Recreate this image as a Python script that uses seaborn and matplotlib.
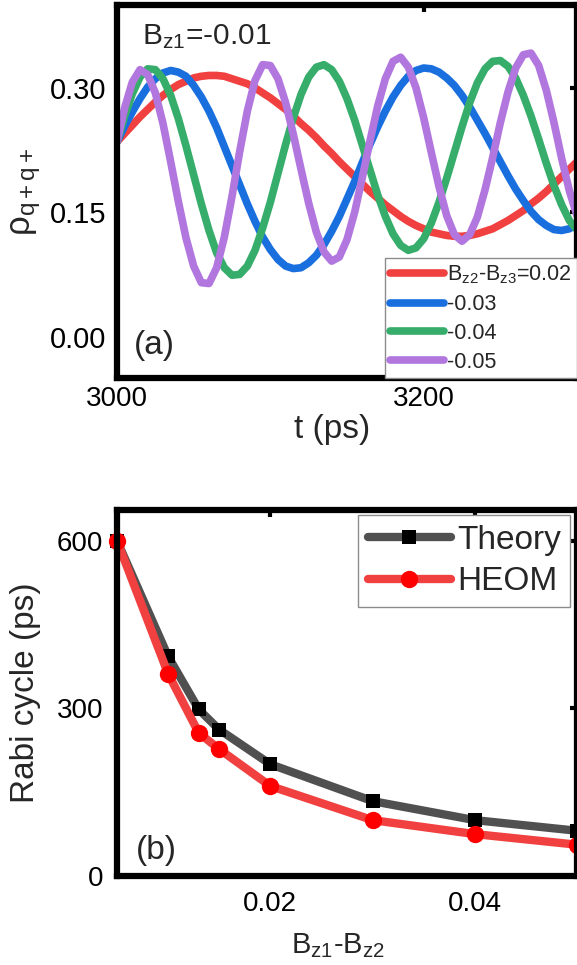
import numpy as np
import pandas as pd
import matplotlib
matplotlib.use("Agg")
import matplotlib.pyplot as plt
import seaborn as sns

# ---------------- data: panel (a) ----------------
t_ps = list(range(3000, 3301, 5))
rho_002 = [0.235, 0.245, 0.255, 0.265, 0.274, 0.283, 0.291, 0.298, 0.304, 0.308, 0.312, 0.314, 0.315,
           0.315, 0.314, 0.311, 0.308, 0.305, 0.300, 0.294, 0.288, 0.281, 0.274, 0.266, 0.257, 0.249,
           0.240, 0.230, 0.221, 0.211, 0.202, 0.193, 0.184, 0.175, 0.167, 0.159, 0.152, 0.145, 0.139,
           0.134, 0.130, 0.126, 0.124, 0.122, 0.121,
           0.121, 0.122, 0.124, 0.127, 0.130, 0.135, 0.140, 0.146, 0.152, 0.160, 0.167, 0.175, 0.184,
           0.193, 0.202, 0.211]
rho_003 = [0.235, 0.254, 0.271, 0.287, 0.301, 0.311, 0.318, 0.321,
           0.319, 0.314, 0.303, 0.289, 0.272, 0.252, 0.229, 0.206, 0.183, 0.160, 0.139, 0.120, 0.105,
           0.093, 0.085, 0.082,
           0.083, 0.089, 0.098, 0.111, 0.127, 0.145, 0.166, 0.187, 0.210, 0.232, 0.253, 0.272, 0.289,
           0.303, 0.314, 0.321, 0.324,
           0.323, 0.319, 0.312, 0.303, 0.291, 0.277, 0.261, 0.245, 0.228, 0.211, 0.194, 0.178, 0.164,
           0.151, 0.141, 0.134, 0.129, 0.128, 0.130, 0.136]
rho_004 = [0.235, 0.266, 0.293, 0.313, 0.323,
           0.322, 0.311, 0.291, 0.263, 0.230, 0.195, 0.160, 0.128, 0.101, 0.083, 0.074,
           0.075, 0.085, 0.104, 0.131, 0.162, 0.197, 0.232, 0.264, 0.292, 0.313, 0.325,
           0.328, 0.322, 0.308, 0.287, 0.261, 0.231, 0.201, 0.171, 0.145, 0.124, 0.110, 0.104,
           0.107, 0.118, 0.137, 0.162, 0.191, 0.222, 0.253, 0.282, 0.306, 0.323, 0.332,
           0.333, 0.326, 0.312, 0.291, 0.266, 0.238, 0.209, 0.182, 0.159, 0.140, 0.129]
rho_005 = [0.235, 0.276, 0.307, 0.322, 0.316, 0.294, 0.257, 0.211, 0.163, 0.119, 0.085, 0.065,
           0.064, 0.083, 0.120, 0.169, 0.223, 0.272, 0.309, 0.328, 0.327, 0.311, 0.282, 0.244,
           0.202, 0.161, 0.126, 0.102, 0.091, 0.096, 0.117, 0.150, 0.192, 0.236, 0.278, 0.311,
           0.332, 0.337, 0.325, 0.300, 0.264, 0.222, 0.181, 0.146, 0.123, 0.115, 0.123, 0.144,
           0.177, 0.216, 0.258, 0.295, 0.324, 0.340, 0.342, 0.327, 0.297, 0.258, 0.215, 0.176,
           0.146]
series_labels = ["B$_{z2}$-B$_{z3}$=0.02", "-0.03", "-0.04", "-0.05"]
series_colors = ["#F14040", "#1A6FDF", "#37AD6B", "#B177DE"]

# ---------------- data: panel (b) ----------------
dB = [0.005, 0.01, 0.013, 0.015, 0.02, 0.03, 0.04, 0.05]
rabi_theory = [600, 393, 298, 262, 200, 134, 100, 81]
rabi_heom = [600, 362, 256, 227, 161, 100, 75, 56]

# ---------------- style ----------------
sns.set_style("white")
plt.rcParams["font.family"] = ["Liberation Sans", "DejaVu Sans"]
plt.rcParams["mathtext.fontset"] = "custom"
plt.rcParams["mathtext.rm"] = "Liberation Sans"
plt.rcParams["mathtext.it"] = "Liberation Sans:italic"
plt.rcParams["mathtext.default"] = "regular"

fig = plt.figure(figsize=(5.77, 9.65), dpi=100)
W, H = 577.0, 965.0
ax1 = fig.add_axes([117 / W, 1 - 378 / H, 1 - 117 / W, (378 - 5) / H])
ax2 = fig.add_axes([117 / W, 1 - 876 / H, 1 - 117 / W, (876 - 510) / H])

for ax in (ax1, ax2):
    for s in ax.spines.values():
        s.set_visible(True)
        s.set_color("black")
        s.set_linewidth(4.5)
    ax.tick_params(direction="in", length=5, width=3, top=True, right=True,
                   labelsize=20, colors="black")
    ax.set_facecolor("white")
ax1.tick_params(axis="x", pad=6)
ax1.tick_params(axis="y", pad=8, labelsize=21)
ax2.tick_params(axis="x", pad=11)
ax2.tick_params(axis="y", pad=10)

# ---- panel (a)
rows = []
for lab, vals in zip(series_labels, [rho_002, rho_003, rho_004, rho_005]):
    for tt, v in zip(t_ps, vals):
        rows.append({"t": tt, "rho": v, "series": lab})
df_a = pd.DataFrame(rows)
sns.lineplot(data=df_a, x="t", y="rho", hue="series", hue_order=series_labels,
             palette=series_colors, linewidth=5.5, estimator=None, sort=False,
             legend=False, ax=ax1)
for ln in ax1.lines:
    ln.set_solid_capstyle("round")
    ln.set_solid_joinstyle("round")
ax1.set_xlim(3000, 3300)
ax1.set_ylim(-0.05, 0.40)
ax1.set_xticks([3000, 3200])
ax1.set_yticks([0.0, 0.15, 0.30])
ax1.set_yticklabels(["0.00", "0.15", "0.30"])
ax1.set_xlabel("t (ps)", fontsize=24)
ax1.xaxis.set_label_coords(0.467, -0.097)
ax1.set_ylabel("ρ$_{q+q+}$", fontsize=25)
ax1.yaxis.set_label_coords(-0.16, 0.5)
ax1.text(0.054, 0.915, "B$_{z1}$=-0.01", transform=ax1.transAxes, fontsize=21.5,
         ha="left", va="center")
ax1.text(0.037, 0.086, "(a)", transform=ax1.transAxes, fontsize=24,
         ha="left", va="center")
leg1 = ax1.legend(handles=ax1.lines[:4], labels=series_labels, loc="lower right",
                  bbox_to_anchor=(1.0, 0.0), borderaxespad=0, fontsize=15.5,
                  handlelength=2.5, handletextpad=0.15, labelspacing=0.36,
                  borderpad=0.25, fancybox=False, framealpha=1, edgecolor="#8c8c8c")
leg1.get_frame().set_linewidth(1.0)

# ---- panel (b)
df_b = pd.DataFrame({"dB": dB + dB,
                     "cycle": rabi_theory + rabi_heom,
                     "method": ["Theory"] * len(dB) + ["HEOM"] * len(dB)})
sns.lineplot(data=df_b[df_b.method == "Theory"], x="dB", y="cycle", color="#505050",
             linewidth=6, marker="s", markersize=10, markerfacecolor="black",
             markeredgecolor="black", markeredgewidth=0, label="Theory",
             estimator=None, ax=ax2, clip_on=False)
sns.lineplot(data=df_b[df_b.method == "HEOM"], x="dB", y="cycle", color="#F14040",
             linewidth=6, marker="o", markersize=12.5, markerfacecolor="#FF0000",
             markeredgecolor="#FF0000", markeredgewidth=0, label="HEOM",
             estimator=None, ax=ax2, clip_on=False)
ax2.set_xlim(0.005, 0.05)
ax2.set_ylim(0, 655)
ax2.set_xticks([0.02, 0.04])
ax2.set_xticklabels(["0.02", "0.04"])
ax2.set_yticks([0, 300, 600])
ax2.set_xlabel("B$_{z1}$-B$_{z2}$", fontsize=21)
ax2.xaxis.set_label_coords(0.48, -0.15)
ax2.set_ylabel("Rabi cycle (ps)", fontsize=24)
ax2.yaxis.set_label_coords(-0.165, 0.5)
ax2.text(0.04, 0.07, "(b)", transform=ax2.transAxes, fontsize=24,
         ha="left", va="center")
leg2 = ax2.legend(loc="upper right", bbox_to_anchor=(0.985, 0.985), borderaxespad=0,
                  fontsize=24, handlelength=2.5, handletextpad=0.18, labelspacing=0.32,
                  borderpad=0.28, fancybox=False, framealpha=1, edgecolor="#8c8c8c")
leg2.get_frame().set_linewidth(1.0)

fig.savefig("out.png", dpi=100)
